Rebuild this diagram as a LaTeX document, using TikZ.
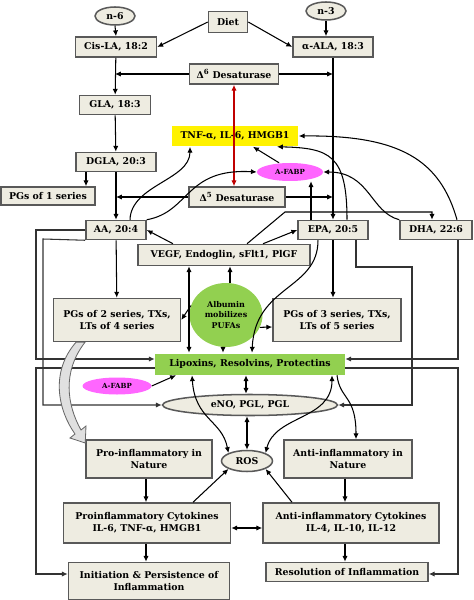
\documentclass[tikz,border=0pt]{standalone}
\usepackage{fontspec}
\setmainfont{DejaVu Serif}
\usetikzlibrary{shapes.geometric,arrows.meta,calc}

\definecolor{boxfill}{HTML}{EEECE1}
\definecolor{boxline}{HTML}{595959}
\definecolor{leafgreen}{HTML}{92D050}
\definecolor{fabppink}{HTML}{FF66FF}
\definecolor{darkred}{HTML}{C00000}

\tikzset{
  box/.style={draw=boxline, fill=boxfill, line width=1.3pt, align=center, inner sep=1pt,
    font=\bfseries\fontsize{8}{10}\selectfont},
  oval/.style={box, ellipse, inner sep=0pt},
  fabp/.style={ellipse, fill=fabppink, inner sep=0pt, minimum width=1.98cm, minimum height=0.54cm,
    font=\bfseries\fontsize{6}{7}\selectfont},
  link/.style={->, line width=0.9pt},
  twoway/.style={<->, line width=0.9pt},
  frame/.style={->, line width=0.9pt, black!80},
  hollow/.style={draw=black!60, fill=black!12, line width=0.7pt}
}

\begin{document}
\begin{tikzpicture}[x=0.03cm, y=-0.03cm, >={Latex[length=5pt,width=4.5pt]}]
\useasboundingbox (0,0) rectangle (473,600);

% sources and n-6 / n-3 chains
\node[oval, minimum width=1.2cm, minimum height=0.54cm] (n6) at (115,16) {n-6};
\node[box, minimum width=1.17cm, minimum height=0.63cm] (diet) at (228,22) {Diet};
\node[oval, minimum width=1.2cm, minimum height=0.54cm] (n3) at (326,11) {n-3};
\node[box, minimum width=2.43cm, minimum height=0.6cm] (cisla) at (116,47) {Cis-LA, 18:2};
\node[box, minimum width=2.4cm, minimum height=0.6cm] (ala) at (333,47) {α-ALA, 18:3};
\node[box, minimum width=2.67cm, minimum height=0.6cm] (d6) at (234,74) {Δ\textsuperscript{6} Desaturase};
\node[box, minimum width=2.13cm, minimum height=0.57cm] (gla) at (115,105) {GLA, 18:3};
\node[box, fill=yellow, draw=none, minimum width=3.78cm, minimum height=0.6cm] (tnf) at (235,136) {TNF-α, IL-6, HMGB1};
\node[box, minimum width=2.4cm, minimum height=0.57cm] (dgla) at (116,162) {DGLA, 20:3};
\node[fabp] (afabp1) at (290,172) {A-FABP};
\node[box, minimum width=2.82cm, minimum height=0.54cm] (pg1) at (48,196) {PGs of 1 series};
\node[box, minimum width=2.88cm, minimum height=0.6cm] (d5) at (237,197) {Δ\textsuperscript{5} Desaturase};
\node[box, minimum width=1.8cm, minimum height=0.57cm] (aa) at (116,230) {AA, 20:4};
\node[box, minimum width=2.1cm, minimum height=0.57cm] (epa) at (333,230) {EPA, 20:5};
\node[box, minimum width=2.16cm, minimum height=0.57cm] (dha) at (436,230) {DHA, 22:6};
\node[box, minimum width=5.16cm, minimum height=0.63cm] (vegf) at (224,255) {VEGF, Endoglin, sFlt1, PlGF};

% middle
\node[ellipse, fill=leafgreen, inner sep=0pt, minimum width=2.19cm, minimum height=1.92cm, align=center,
  font=\bfseries\fontsize{6.8}{9}\selectfont] (alb) at (226,315) {Albumin\\mobilizes\\PUFAs};
\node[box, minimum width=3.81cm, minimum height=1.29cm] (pg2) at (117,320) {PGs of 2 series, TXs,\\LTs of 4 series};
\node[box, minimum width=3.84cm, minimum height=1.29cm] (pg3) at (337,320) {PGs of 3 series, TXs,\\LTs of 5 series};
\node[box, fill=leafgreen, draw=none, minimum width=5.67cm, minimum height=0.63cm] (lipo) at (250,364) {Lipoxins, Resolvins, Protectins};
\node[fabp, minimum width=2.07cm, minimum height=0.51cm] (afabp2) at (117,386) {A-FABP};
\node[oval, minimum width=5.25cm, minimum height=0.63cm] (eno) at (250,405) {eNO, PGL, PGL};
\node[oval, minimum width=1.53cm, minimum height=0.63cm] (ros) at (247,461) {ROS};

% bottom
\node[box, minimum width=3.78cm, minimum height=1.14cm] (pro) at (149,459) {Pro-inflammatory in\\Nature};
\node[box, minimum width=3.84cm, minimum height=1.14cm] (anti) at (348,459) {Anti-inflammatory in\\Nature};
\node[box, minimum width=5.01cm, minimum height=1.2cm] (procyto) at (147,523) {Proinflammatory Cytokines\\IL-6, TNF-α, HMGB1};
\node[box, minimum width=5.28cm, minimum height=1.2cm] (anticyto) at (351,523) {Anti-inflammatory Cytokines\\IL-4, IL-10, IL-12};
\node[box, minimum width=4.83cm, minimum height=1.11cm] (init) at (149,581) {Initiation \& Persistence of\\Inflammation};
\node[box, minimum width=4.86cm, minimum height=0.57cm] (reso) at (347,572) {Resolution of Inflammation};

% desaturase steps
\draw[link] (n6.south) -- (cisla.north);
\draw[link] (n3.south) -- (n3.south |- ala.north);
\draw[link] (diet.west) -- (cisla.east);
\draw[link] (diet.east) -- (ala.west);
\draw[link] (cisla) -- (gla);
\draw[link] (gla) -- (dgla);
\draw[link] (dgla) -- (aa);
\draw[link] (dgla.south -| 86,0) -- (pg1.north -| 86,0);
\draw[link] (d6) -- (d6 -| gla.north);
\draw[link] (d6) -- (d6 -| ala.south);
\draw[link] (ala) -- (epa);
\draw[link] (d5) -- (d5 -| aa.north);
\draw[link] (d5) -- (d5 -| epa.north);
\draw[twoway, darkred] (d6.south) -- (d6.south |- d5.north);

% cytokines and A-FABP
\draw[link] (aa.north -| 130,0) .. controls (131,185) and (190,180) .. (tnf.south -| 190,0);
\draw[link] (aa.north east) .. controls (190,212) and (185,168) .. (afabp1.west);
\draw[link] (afabp1.north -| 279,0) -- (tnf.south -| 253,0);
\draw[link] (epa.north -| 311,0) -- (afabp1.south -| 311,0);
\draw[link] (epa.north -| 347,0) .. controls (347,155) and (330,148) .. (tnf.south -| 277,0);
\draw[link] (dha.north -| 457,0) .. controls (440,160) and (400,135) .. (tnf.east);
\draw[link] (dha.north west) .. controls (370,212) and (370,172) .. (afabp1.east);
\draw[link] (vegf.north -| 173,0) -- (aa.east);
\draw[link] (vegf.north -| 263,0) -- (epa.west);
\draw[link] (vegf.north -| 247,0) -- (285,212) -| (dha.north -| 432,0);

% albumin
\draw[link] (alb.north -| 230,0) -- (vegf.south -| 230,0);
\draw[twoway] (vegf.south -| 189,0) -- (lipo.north -| 189,0);
\draw[link] (alb.165) -- (pg2.east);
\draw[link] (alb.-20) -- (pg3.west |- 0,327);
\draw[link] (alb.south -| 223,0) -- (lipo.north -| 223,0);
\draw[link] (epa.south -| 318,0) .. controls (318,290) and (255,285) .. (lipo.north -| 252,0);
\draw[link] (aa) -- (pg2);
\draw[link] (epa.south) -- (epa.south |- pg3.north);

% outer lines
\draw[frame] (aa.west) -- (36,230) |- (lipo.west |- 0,359);
\draw[frame] (aa.south west) -- (43,239) |- (eno.west);
\draw[frame] (epa.south -| 356,0) -- (356,267) -- (412,267) |- (eno.east);
\draw[frame] (dha.south -| 458,0) |- (lipo.east |- 0,359);
\draw[frame] (lipo.west |- 0,368) -- (36,368) |- (init.west |- 0,574);
\draw[frame] (lipo.east |- 0,368) -- (458,368) |- (reso.east |- 0,574);
\draw[link] (afabp2.east) -- (lipo.south -| 176,0);

% lower part
\draw[hollow] (pg2.south -| 85,0) .. controls (62,372) and (67,405) .. (81,430) -- (86,426)
  -- (pro.north west |- 0,443) -- (70,438) -- (75,434) .. controls (58,410) and (50,372) .. (pg2.south -| 76,0) -- cycle;
\draw[twoway] (lipo.south -| 246,0) -- (eno.north -| 246,0);
\draw[twoway] (eno.south -| 247,0) -- (ros.north);
\draw[twoway] (lipo.south -| 192,0) .. controls (195,420) and (222,420) .. (ros.north west);
\draw[twoway] (lipo.south -| 332,0) .. controls (332,420) and (275,415) .. (ros.north east);
\draw[link] (lipo.south -| 337,0) .. controls (340,400) and (356,395) .. (anti.north -| 356,0);
\draw[link] (pro.south -| 146,0) -- (procyto.north -| 146,0);
\draw[link] (anti.south -| 345,0) -- (anticyto.north -| 345,0);
\draw[twoway] (procyto.east |- 0,528) -- (anticyto.west |- 0,528);
\draw[link] (procyto.north -| 193,0) -- (ros.south west);
\draw[link] (anticyto.north -| 292,0) -- (ros.south east);
\draw[link] (procyto.south -| 146,0) -- (init.north -| 146,0);
\draw[link] (anticyto.south -| 345,0) -- (reso.north -| 345,0);

\end{tikzpicture}
\end{document}
